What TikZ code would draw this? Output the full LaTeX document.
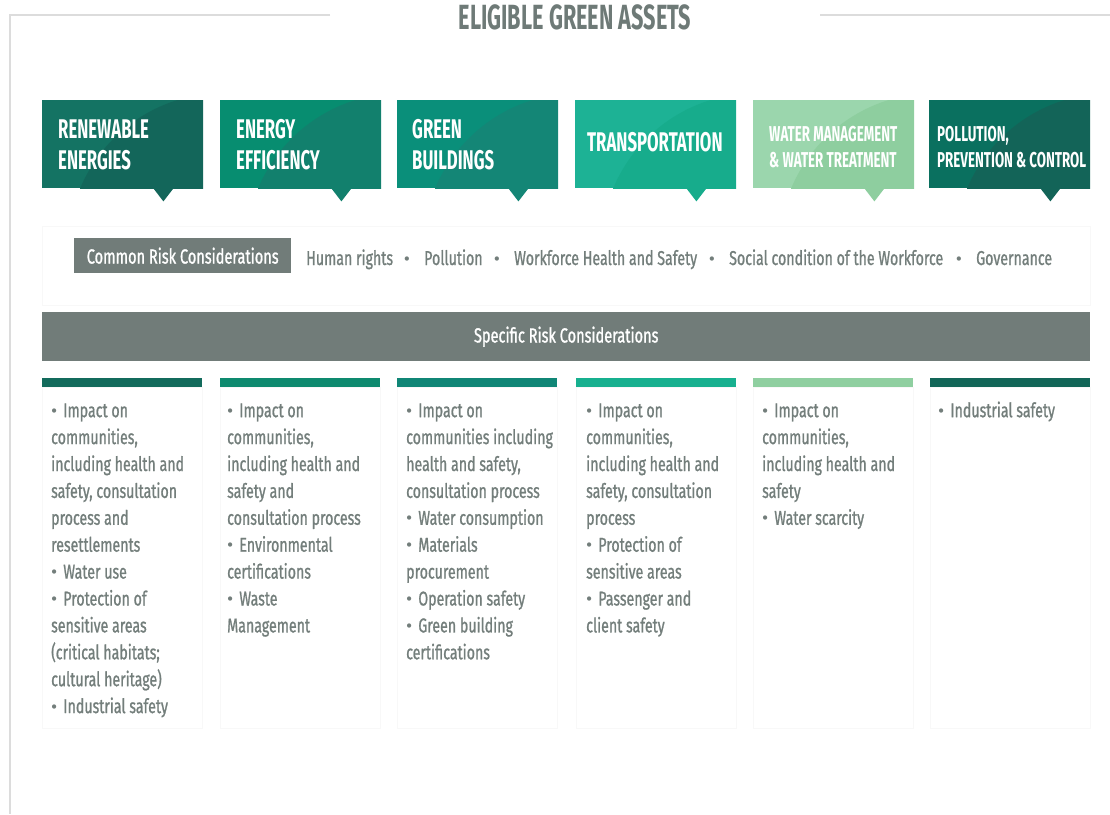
\documentclass[tikz,border=0pt]{standalone}
\usepackage{fontspec}
\setmainfont{Fira Sans}[FakeStretch=0.71,FakeBold=1.0]
\newfontfamily\hfont{Fira Sans}[FakeStretch=0.62]
\newfontfamily\dotfont{Fira Sans}
\usetikzlibrary{calc}
\definecolor{gframe}{HTML}{DCDCDC}
\definecolor{gtitle}{HTML}{6E7A77}
\definecolor{gbar}{HTML}{717C79}
\definecolor{gtext}{HTML}{737E7B}
\definecolor{gfaint}{HTML}{F8F8F8}
\definecolor{c1a}{HTML}{147363}\definecolor{c1b}{HTML}{13665A}
\definecolor{c2a}{HTML}{078D70}\definecolor{c2b}{HTML}{12806D}
\definecolor{c3a}{HTML}{0A8F7A}\definecolor{c3b}{HTML}{148676}
\definecolor{c4a}{HTML}{1DB295}\definecolor{c4b}{HTML}{17AC8C}
\definecolor{c5a}{HTML}{9BD6AD}\definecolor{c5b}{HTML}{8ECE9F}
\definecolor{c6a}{HTML}{0A705F}\definecolor{c6b}{HTML}{136458}
\definecolor{k1}{HTML}{136B5C}\definecolor{k2}{HTML}{0E8A6F}
\definecolor{k3}{HTML}{108676}\definecolor{k4}{HTML}{17B08F}
\definecolor{k5}{HTML}{8FCFA0}\definecolor{k6}{HTML}{126658}
\newcommand\bstrut{\rule{0pt}{16pt}}
\newcommand\hstrut{\rule{0pt}{20pt}}
\newcommand\dotch{{\dotfont\fontsize{19}{19}\selectfont\textbullet}}
\newcommand\bul{\dotch\hspace{6pt}}
\begin{document}
\begin{tikzpicture}[x=1pt,y=-1pt,
  hbox/.style={minimum width=161pt,minimum height=88pt,inner sep=0pt,anchor=north west,draw=none},
  htxt/.style={anchor=north west,inner sep=0pt,align=left,text=white,font=\hfont\bfseries\fontsize{27}{31}\selectfont},
  hsmall/.style={htxt,font=\hfont\bfseries\fontsize{21.5}{26}\selectfont},
  bodytxt/.style={anchor=north west,inner sep=0pt,align=left,text=gtext,font=\fontsize{20}{26.9}\selectfont},
  listtxt/.style={anchor=base west,inner sep=0pt,text=gtext,font=\fontsize{20}{24}\selectfont},
  listdot/.style={anchor=base,inner sep=0pt,text=gtext,font=\fontsize{20}{24}\selectfont},
  graybar/.style={fill=gbar,text=white,inner sep=0pt,anchor=north west,font=\fontsize{20.5}{24}\selectfont},
  colbar/.style={inner sep=0pt,minimum width=160pt,minimum height=9pt,anchor=north west,draw=none},
  faint/.style={draw=gfaint,line width=0.5pt}
]
\useasboundingbox (0,0) rectangle (1110,814);
% frame
\coordinate (fa) at (330,15);
\coordinate (fc) at (10,15);
\coordinate (fd) at (10,814);
\coordinate (fe) at (820,15);
\coordinate (ff) at (1110,15);
\draw[gframe,line width=2.5pt] (fa) -- (fc) -- (fd);
\draw[gframe,line width=2.5pt] (fe) -- (ff);
\node[inner sep=0pt,text=gtitle,font=\hfont\bfseries\fontsize{35}{40}\selectfont] (title) at (575,17) {ELIGIBLE GREEN ASSETS};

% header boxes
\foreach \n/\x/\ca/\cb in {1/42/c1a/c1b,2/220/c2a/c2b,3/397/c3a/c3b,4/575/c4a/c4b,5/753/c5a/c5b,6/929/c6a/c6b}{
  \node[hbox,fill=\ca,path picture={\fill[\cb] ($(path picture bounding box.south east)+(20,60)$) circle (155);}] (h\n) at (\x,100) {};
  \fill[\cb] ($(h\n.south east)+(-50,0)$) -- ++(20,0) -- ++(-10,13) -- cycle;
}
\node[htxt] (t1) at (58,118) {\hstrut RENEWABLE\\ENERGIES};
\node[htxt] (t2) at (236,118) {\hstrut ENERGY\\EFFICIENCY};
\node[htxt] (t3) at (412,118) {\hstrut GREEN\\BUILDINGS};
\node[htxt] (t4) at (587,131) {\hstrut TRANSPORTATION};
\node[hsmall] (t5) at (769,121) {\hstrut WATER MANAGEMENT\\\& WATER TREATMENT};
\node[hsmall] (t6) at (937,121) {\hstrut POLLUTION,\\PREVENTION \& CONTROL};

% common risk row
\draw[faint] (42,226) rectangle (1090,305);
\node[graybar,minimum width=217pt,minimum height=35pt] (crc) at (74,238) {Common Risk Considerations};
\node[listtxt] (l1) at (306,265) {Human rights};
\node[listdot] (d1) at (407,265) {\dotch};
\node[listtxt] (l2) at (424,265) {Pollution};
\node[listdot] (d2) at (497,265) {\dotch};
\node[listtxt] (l3) at (514,265) {Workforce Health and Safety};
\node[listdot] (d3) at (712,265) {\dotch};
\node[listtxt] (l4) at (729,265) {Social condition of the Workforce};
\node[listdot] (d4) at (959,265) {\dotch};
\node[listtxt] (l5) at (976,265) {Governance};

% specific risk bar
\node[graybar,minimum width=1048pt,minimum height=49pt] (src) at (42,312) {Specific Risk Considerations};

% column bars and faint panels
\foreach \n/\x in {1/42,2/220,3/397,4/576,5/753,6/930}{
  \draw[faint] (\x,387) rectangle ++(160,341);
  \node[colbar,fill=k\n] (b\n) at (\x,378) {};
}

% column texts
\node[bodytxt] (s1) at (51,401) {\bstrut\bul Impact on\\communities,\\including health and\\safety, consultation\\process and\\resettlements\\\bul Water use\\\bul Protection of\\sensitive areas\\(critical habitats;\\cultural heritage)\\\bul Industrial safety};
\node[bodytxt] (s2) at (227,401) {\bstrut\bul Impact on\\communities,\\including health and\\safety and\\consultation process\\\bul Environmental\\certifications\\\bul Waste\\Management};
\node[bodytxt] (s3) at (406,401) {\bstrut\bul Impact on\\communities including\\health and safety,\\consultation process\\\bul Water consumption\\\bul Materials\\procurement\\\bul Operation safety\\\bul Green building\\certifications};
\node[bodytxt] (s4) at (586,401) {\bstrut\bul Impact on\\communities,\\including health and\\safety, consultation\\process\\\bul Protection of\\sensitive areas\\\bul Passenger and\\client safety};
\node[bodytxt] (s5) at (762,401) {\bstrut\bul Impact on\\communities,\\including health and\\safety\\\bul Water scarcity};
\node[bodytxt] (s6) at (938,401) {\bstrut\bul Industrial safety};
\end{tikzpicture}
\end{document}
